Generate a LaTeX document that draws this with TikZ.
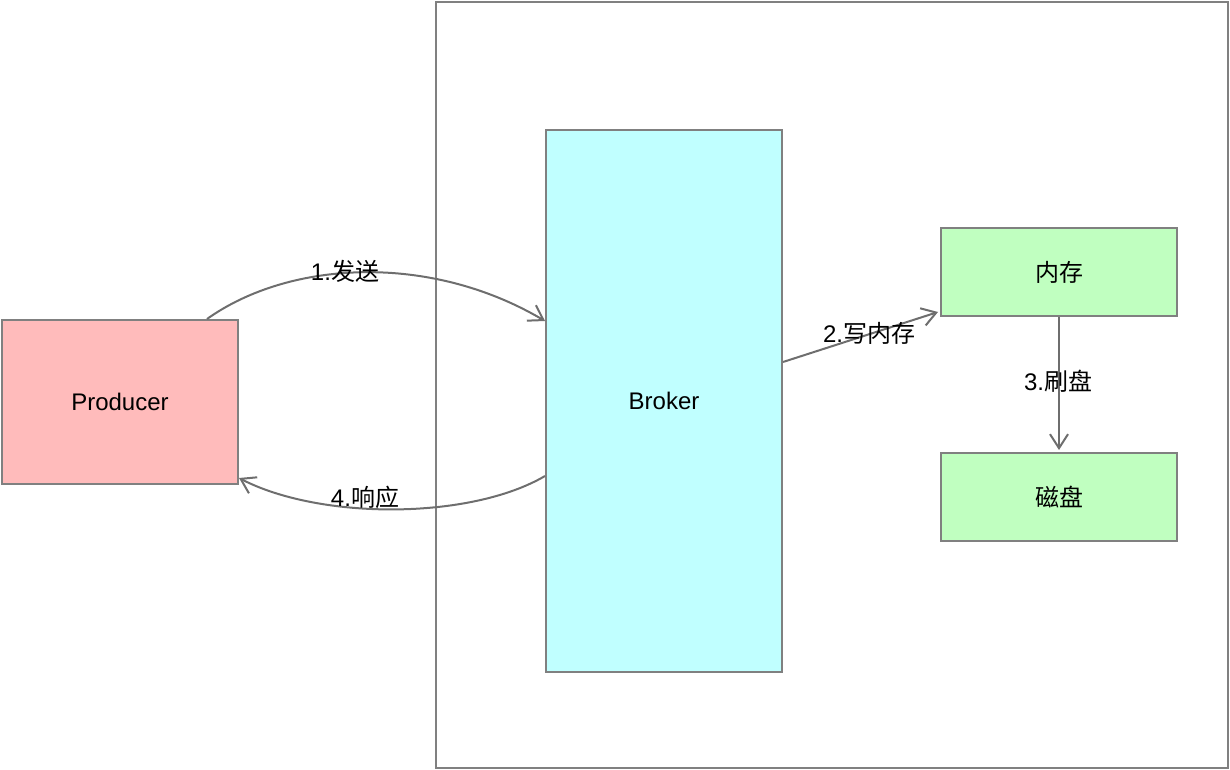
\documentclass[tikz,border=0pt]{standalone}
\usepackage{fontspec}
\setmainfont{Liberation Sans}
\newfontfamily\cjk{Noto Sans CJK SC}
\usetikzlibrary{arrows.meta}
\definecolor{boxgray}{HTML}{808080}
\definecolor{linegray}{HTML}{6E6E6E}
\definecolor{prodfill}{HTML}{FFBBBB}
\definecolor{brokerfill}{HTML}{C0FFFF}
\definecolor{memfill}{HTML}{C0FFC0}
\tikzset{
  box/.style={draw=boxgray, line width=2pt, minimum width=236pt, inner sep=0pt, font=\fontsize{24}{28}\selectfont},
  conn/.style={draw=linegray, line width=2pt, -{Straight Barb[length=14pt,width=18pt,line width=2pt]}},
  lbl/.style={inner sep=0pt, font=\fontsize{24}{28}\selectfont},
}
\begin{document}
\begin{tikzpicture}[x=1pt,y=-1pt]
\useasboundingbox (0,0) rectangle (1230,770);
\node[draw=boxgray, line width=2pt, minimum width=792pt, minimum height=766pt, inner sep=0pt] (outer) at (832,385) {};
\node[box, fill=prodfill, minimum height=164pt] (prod) at (120,402) {Producer};
\node[box, fill=brokerfill, minimum height=542pt] (broker) at (664,401) {Broker};
\node[box, fill=memfill, minimum height=88pt] (mem) at (1059,272) {\cjk 内存};
\node[box, fill=memfill, minimum height=88pt] (disk) at (1059,497) {\cjk 磁盘};
\draw[conn] ([xshift=-32pt]prod.north east) .. controls (290,260) and (430,253) .. ([yshift=80pt]broker.west);
\draw[conn] ([yshift=-75pt]broker.west) .. controls (470,520) and (320,520) .. ([yshift=7pt]prod.south east);
\draw[conn] ([yshift=39pt]broker.east) -- ([shift={(-2pt,5pt)}]mem.south west);
\draw[conn] (mem.south) -- ([yshift=2pt]disk.north);
\node[lbl] (l1) at (345,271) {1.{\cjk 发送}};
\node[lbl] (l2) at (869,333) {2.{\cjk 写内存}};
\node[lbl] (l3) at (1058,381) {3.{\cjk 刷盘}};
\node[lbl] (l4) at (365,497) {4.{\cjk 响应}};
\end{tikzpicture}
\end{document}
